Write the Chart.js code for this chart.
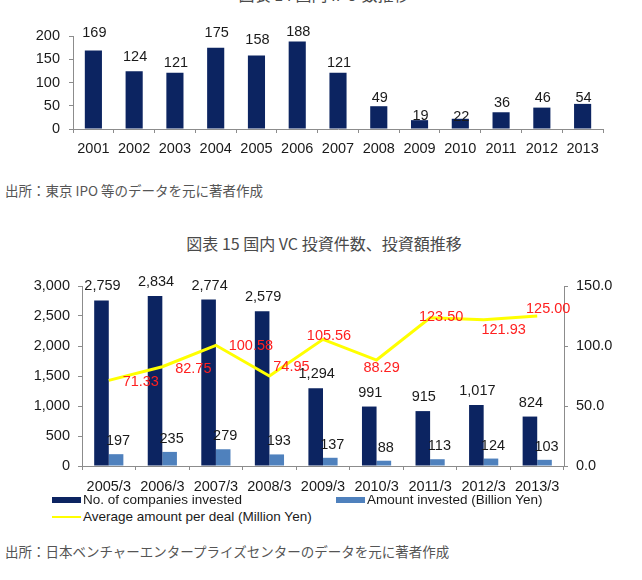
<!DOCTYPE html>
<html>
<head>
<meta charset="utf-8">
<script src="https://cdn.jsdelivr.net/npm/chart.js@4.4.0/dist/chart.umd.min.js"></script>
<style>
  body { margin: 0; width: 642px; height: 580px; background: #fff; position: relative; overflow: hidden;
         font-family: "Noto Sans CJK JP", sans-serif; }
  .txt { position: absolute; white-space: nowrap; color: #4a4a4a; }
  .title { font-size: 16px; line-height: 20px; left: 0; width: 648px; text-align: center; }
  .source { font-size: 13.5px; line-height: 16px; left: 5px; color: #555; }
  canvas { position: absolute; left: 0; }
  .leg { position: absolute; font-family: "Liberation Sans", Arial, sans-serif; font-size: 13.5px;
         color: #1a1a1a; white-space: nowrap; line-height: 16px; }
  .leg i { position: absolute; left: 0; display: block; }
</style>
</head>
<body>
<div class="txt title" style="top:-16px">図表 14 国内 IPO 数推移</div>
<canvas id="ipo" width="642" height="165" style="top:0"></canvas>
<div class="txt source" style="top:182px">出所：東京 IPO 等のデータを元に著者作成</div>
<div class="txt title" style="top:233px">図表 15 国内 VC 投資件数、投資額推移</div>
<canvas id="vc" width="642" height="245" style="top:255px"></canvas>
<div id="legend"></div>
<div class="txt source" style="top:543px">出所：日本ベンチャーエンタープライズセンターのデータを元に著者作成</div>

<script>
// --- chart 14: IPO count ---
const ipoYears = ['2001','2002','2003','2004','2005','2006','2007','2008','2009','2010','2011','2012','2013'];
const ipoCounts = [169, 124, 121, 175, 158, 188, 121, 49, 19, 22, 36, 46, 54];
const ipoTicks = [0, 50, 100, 150, 200];

// --- chart 15: VC investment ---
const vcPeriods = ['2005/3','2006/3','2007/3','2008/3','2009/3','2010/3','2011/3','2012/3','2013/3'];
const vcCompanies = [2759, 2834, 2774, 2579, 1294, 991, 915, 1017, 824];
const vcAmount = [197, 235, 279, 193, 137, 88, 113, 124, 103];
const vcAverage = [71.33, 82.75, 100.58, 74.95, 105.56, 88.29, 123.50, 121.93, 125.00];
const vcLeftTicks = [0, 500, 1000, 1500, 2000, 2500, 3000];
const vcRightTicks = [0, 50, 100, 150];
const vcSeriesNames = ['No. of companies invested', 'Amount invested (Billion Yen)', 'Average amount per deal (Million Yen)'];

const NAVY = '#0c2461';
const LIGHT = '#4f81bd';
const YELLOW = '#ffff00';
const AXIS = '#8c8c8c';
const LABEL_FONT = '14.5px "Liberation Sans", Arial, sans-serif';

Chart.defaults.font.family = '"Liberation Sans", Arial, sans-serif';
Chart.defaults.font.size = 14.5;
Chart.defaults.color = '#1a1a1a';

// draws value text next to each bar / point; offsets are label nudges (px)
const valueLabels = {
  id: 'valueLabels',
  afterDatasetsDraw(chart) {
    const ctx = chart.ctx;
    ctx.save();
    ctx.textAlign = 'center';
    ctx.textBaseline = 'middle';
    chart.data.datasets.forEach((ds, i) => {
      const lab = ds.valueLabel;
      if (!lab) return;
      ctx.font = LABEL_FONT;
      ctx.fillStyle = lab.color;
      chart.getDatasetMeta(i).data.forEach((el, j) => {
        const dx = Array.isArray(lab.dx) ? lab.dx[j] : lab.dx;
        const dy = Array.isArray(lab.dy) ? lab.dy[j] : lab.dy;
        ctx.fillText(lab.format(ds.data[j]), el.x + dx, el.y + dy);
      });
    });
    ctx.restore();
  }
};

const fixedTicks = arr => scale => { scale.ticks = arr.map(v => ({ value: v })); };

new Chart(document.getElementById('ipo'), {
  type: 'bar',
  data: {
    labels: ipoYears,
    datasets: [{
      data: ipoCounts,
      backgroundColor: NAVY,
      categoryPercentage: 1,
      barPercentage: 0.42,
      valueLabel: {
        color: '#1a1a1a',
        format: v => String(v),
        dx: 1,
        dy: [-17, -14, -10, -15, -16, -10, -10, -8, -4, -2, -9, -10, -6]
      }
    }]
  },
  options: {
    responsive: false,
    devicePixelRatio: 1,
    animation: false,
    layout: { padding: { top: 36, right: 39, left: 0, bottom: 0 } },
    plugins: { legend: { display: false }, tooltip: { enabled: false } },
    scales: {
      x: {
        grid: { drawOnChartArea: false, tickLength: 4, color: AXIS },
        border: { color: AXIS },
        ticks: { padding: 7, maxRotation: 0 },
        afterFit: s => { s.height = 36; }
      },
      y: {
        min: 0, max: 200,
        grid: { drawOnChartArea: false, tickLength: 4, color: AXIS },
        border: { color: AXIS },
        ticks: { padding: 9 },
        afterBuildTicks: fixedTicks(ipoTicks),
        afterFit: s => { s.width = 73; }
      }
    }
  },
  plugins: [valueLabels]
});

const vcChart = new Chart(document.getElementById('vc'), {
  type: 'bar',
  data: {
    labels: vcPeriods,
    datasets: [{
      type: 'line',
      label: vcSeriesNames[2],
      data: vcAverage,
      yAxisID: 'y1',
      borderColor: YELLOW,
      backgroundColor: YELLOW,
      borderWidth: 3,
      pointRadius: 0,
      tension: 0,
      order: 0,
      valueLabel: {
        color: '#ff2020',
        format: v => v.toFixed(2),
        dx: [32, 31, 35, 22, 6, 5, 11, 20, 11],
        dy: [2, 2, 1, -9, -3, 8, -1, 10, -7]
      }
    }, {
      label: vcSeriesNames[0],
      data: vcCompanies,
      yAxisID: 'y',
      backgroundColor: NAVY,
      categoryPercentage: 0.545,
      barPercentage: 1,
      order: 1,
      valueLabel: { color: '#1a1a1a', format: v => v.toLocaleString('en-US'), dx: 1, dy: -14 }
    }, {
      label: vcSeriesNames[1],
      data: vcAmount,
      yAxisID: 'y',
      backgroundColor: LIGHT,
      categoryPercentage: 0.545,
      barPercentage: 1,
      order: 1,
      valueLabel: { color: '#1a1a1a', format: v => String(v), dx: 2, dy: -13 }
    }]
  },
  options: {
    responsive: false,
    devicePixelRatio: 1,
    animation: false,
    layout: { padding: { top: 31, right: 0, left: 0, bottom: 0 } },
    plugins: { legend: { display: false }, tooltip: { enabled: false } },
    scales: {
      x: {
        grid: { drawOnChartArea: false, tickLength: 4, color: AXIS },
        border: { color: AXIS },
        ticks: { padding: 8, maxRotation: 0 },
        afterFit: s => { s.height = 34; }
      },
      y: {
        position: 'left',
        min: 0, max: 3000,
        grid: { drawOnChartArea: false, tickLength: 4, color: AXIS },
        border: { color: AXIS },
        ticks: { padding: 8, callback: v => v.toLocaleString('en-US') },
        afterBuildTicks: fixedTicks(vcLeftTicks),
        afterFit: s => { s.width = 82; }
      },
      y1: {
        position: 'right',
        min: 0, max: 150,
        grid: { drawOnChartArea: false, tickLength: 4, color: AXIS },
        border: { color: AXIS },
        ticks: { padding: 8, callback: v => v.toFixed(1) },
        afterBuildTicks: fixedTicks(vcRightTicks),
        afterFit: s => { s.width = 78; }
      }
    }
  },
  plugins: [valueLabels]
});

// legend drawn as HTML from the chart's own datasets
const legendSlots = { [vcSeriesNames[0]]: [52, 500], [vcSeriesNames[1]]: [336, 500], [vcSeriesNames[2]]: [52, 517] };
const legendBox = document.getElementById('legend');
vcChart.data.datasets.forEach(ds => {
  const [x, y] = legendSlots[ds.label];
  const item = document.createElement('div');
  item.className = 'leg';
  item.style.left = x + 'px';
  item.style.top = (y - 8) + 'px';
  item.style.paddingLeft = '31px';
  const mark = document.createElement('i');
  const isLine = ds.type === 'line';
  mark.style.width = '29px';
  mark.style.height = isLine ? '2px' : '6px';
  mark.style.top = isLine ? '7px' : '5px';
  mark.style.background = isLine ? ds.borderColor : ds.backgroundColor;
  item.appendChild(mark);
  item.appendChild(document.createTextNode(ds.label));
  legendBox.appendChild(item);
});
</script>
</body>
</html>
